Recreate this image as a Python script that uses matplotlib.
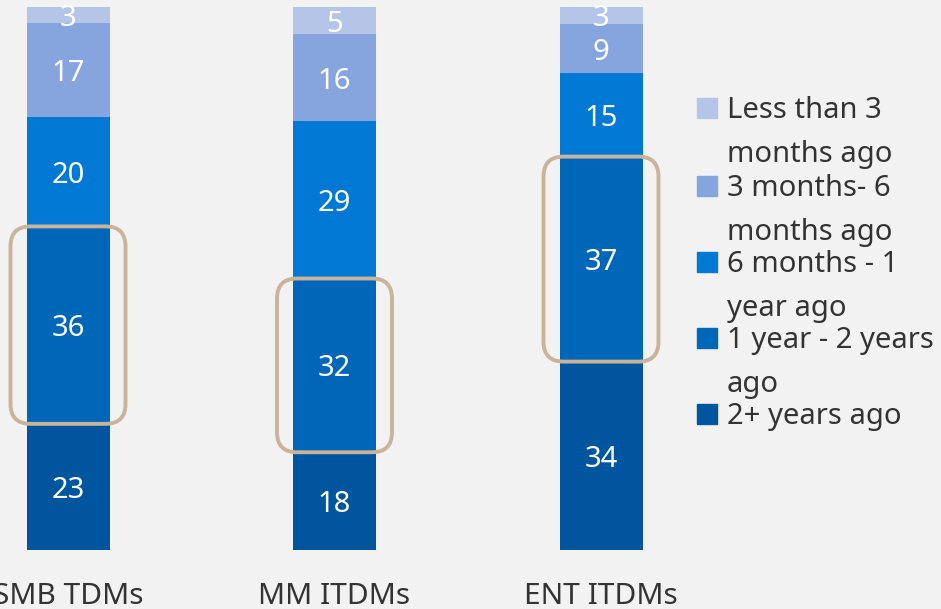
import numpy as np
import matplotlib
matplotlib.use("Agg")
import matplotlib.pyplot as plt
from matplotlib.patches import FancyBboxPatch, Rectangle

plt.rcParams['font.family'] = ['Noto Sans', 'DejaVu Sans']

# data (bottom segment first)
groups = ['SMB TDMs', 'MM ITDMs', 'ENT ITDMs']
series = ['2+ years ago', '1 year - 2 years\nago', '6 months - 1\nyear ago',
          '3 months- 6\nmonths ago', 'Less than 3\nmonths ago']
smb = [23, 36, 20, 17, 3]
mm = [18, 32, 29, 16, 5]
ent = [34, 37, 15, 9, 3]
highlight = 1  # index of the boxed segment

colors = ['#00569e', '#0067b8', '#0078d4', '#86a5df', '#b4c5e8']
bg = '#f2f2f2'
txt = '#333333'

vals = np.array([smb, mm, ent], dtype=float)
pct = vals / vals.sum(axis=1, keepdims=True) * 100

W, H = 941, 609
fig = plt.figure(figsize=(W / 100, H / 100), dpi=100, facecolor=bg)
ax_l, ax_w = (68 - 133.25) / W, 799.5 / W
ax_b, ax_h = 59 / H, 543 / H
ax = fig.add_axes([ax_l, ax_b, ax_w, ax_h])
ax.set_facecolor(bg)

x = np.arange(len(groups))
bw = 83 / 266.5
bottom = np.zeros(len(groups))
for i in range(len(series)):
    ax.bar(x, pct[:, i], bw, bottom=bottom, color=colors[i], edgecolor='none')
    for j in range(len(groups)):
        ax.text(x[j], bottom[j] + pct[j, i] / 2, '%d' % vals[j, i],
                ha='center', va='center_baseline', color='white', fontsize=21)
    bottom += pct[:, i]

# rounded highlight boxes around one segment
px_x = ax_w * W / 3
px_y = ax_h * H / 100
pad_x = 16 / px_x
for j in range(len(groups)):
    y0 = pct[j, :highlight].sum()
    h = pct[j, highlight]
    box = FancyBboxPatch((x[j] - bw / 2 - pad_x, y0), bw + 2 * pad_x, h,
                         boxstyle='round,pad=0,rounding_size=%f' % (20 / px_x),
                         mutation_aspect=px_x / px_y,
                         fill=False, edgecolor='#c9b49b', linewidth=2.8,
                         zorder=5, clip_on=False)
    ax.add_patch(box)

ax.set_xlim(-0.5, 2.5)
ax.set_ylim(0, 100)
ax.set_xticks(x)
ax.set_xticklabels(groups, fontsize=21.5, color=txt)
ax.tick_params(axis='x', length=0, pad=23)
ax.set_yticks([])
for s in ax.spines.values():
    s.set_visible(False)

# legend (top item first)
baselines = [118, 196, 272, 348, 424]
for k, lab in enumerate(series[::-1]):
    col = colors[::-1][k]
    b = baselines[k]
    fig.add_artist(Rectangle((697 / W, 1 - b / H), 20 / W, 20 / H,
                             transform=fig.transFigure, color=col))
    for li, line in enumerate(lab.split('\n')):
        fig.text(727 / W, 1 - (b + li * 44) / H, line, fontsize=21,
                 color=txt, va='baseline', ha='left')

fig.savefig('out.png', dpi=100, facecolor=bg)
